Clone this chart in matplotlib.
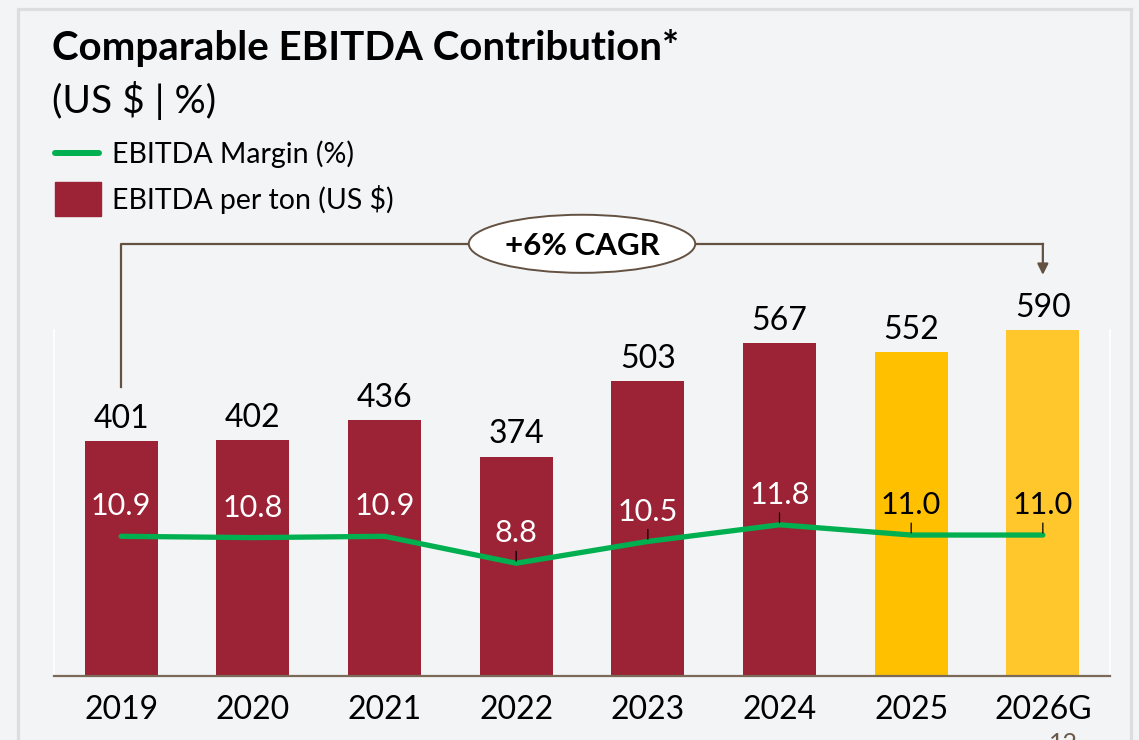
import matplotlib.pyplot as plt
from matplotlib.patches import Ellipse, Rectangle
from matplotlib.lines import Line2D

years = ["2019", "2020", "2021", "2022", "2023", "2024", "2025", "2026G"]
ebitda_per_ton = [401, 402, 436, 374, 503, 567, 552, 590]
ebitda_margin = [10.9, 10.8, 10.9, 8.8, 10.5, 11.8, 11.0, 11.0]
bar_colors = ["#9b2335"] * 6 + ["#ffc000", "#ffc72c"]
margin_label_colors = ["white"] * 6 + ["black", "black"]
has_leader = [False, False, False, True, True, True, True, True]

W, H = 1139, 740
BG = "#f3f4f6"
BRACKET = "#635142"


def fx(px):
    return px / W


def fy(py):
    return 1 - py / H


plt.rcParams["font.family"] = ["Lato", "DejaVu Sans"]
fig = plt.figure(figsize=(W / 100, H / 100), dpi=100)
fig.patch.set_facecolor(BG)

# panel frame
fig.patches.append(Rectangle((fx(17.5), fy(760)), fx(1130.5) - fx(17.5), fy(8.5) - fy(760),
                             transform=fig.transFigure, fill=False,
                             edgecolor="#dcdddf", linewidth=2.3))

# title + legend
fig.text(fx(52), fy(60), "Comparable EBITDA Contribution*", fontsize=29,
         fontweight="bold", va="baseline", ha="left")
fig.text(fx(52), fy(113), "(US $ | %)", fontsize=28, va="baseline", ha="left")
fig.lines.append(Line2D([fx(55), fx(99)], [fy(152.5), fy(152.5)], transform=fig.transFigure,
                        color="#00b050", linewidth=4.3, solid_capstyle="round"))
fig.text(fx(112), fy(163), "EBITDA Margin (%)", fontsize=20.5, va="baseline", ha="left")
fig.patches.append(Rectangle((fx(55), fy(216)), fx(101) - fx(55), fy(182) - fy(216),
                             transform=fig.transFigure, color="#9b2335"))
fig.text(fx(112), fy(209), "EBITDA per ton (US $)", fontsize=20.5, va="baseline", ha="left")

# main axes
ax = fig.add_axes([fx(54), fy(676), (1110 - 54) / W, (676 - 330) / H])
ax.patch.set_visible(False)
x = list(range(len(years)))
ax.bar(x, ebitda_per_ton, width=0.555, color=bar_colors, zorder=2)
ax.set_xlim(-0.51, len(years) - 1 + 0.51)
ax.set_ylim(0, 590)
ax.set_yticks([])
ax.set_xticks(x, years)
ax.tick_params(axis="x", length=0, pad=14, labelsize=23)
for side in ["top"]:
    ax.spines[side].set_visible(False)
for side in ["left", "right"]:
    ax.spines[side].set_color("white")
    ax.spines[side].set_linewidth(1.2)
ax.spines["bottom"].set_color("#7b6a58")
ax.spines["bottom"].set_linewidth(1.6)
ax.spines["bottom"].set_zorder(3)

for i, v in enumerate(ebitda_per_ton):
    ax.annotate(str(v), (i, v), xytext=(0, 9.5), textcoords="offset points",
                ha="center", va="baseline", fontsize=23, annotation_clip=False)

# CAGR bracket
bracket_y = max(ebitda_per_ton) + 147
ax.plot([0, 0, len(years) - 1], [ebitda_per_ton[0] + 92, bracket_y, bracket_y],
        color=BRACKET, linewidth=1.6, clip_on=False, zorder=4)
ax.annotate("", xy=(len(years) - 1, ebitda_per_ton[-1] + 94),
            xytext=(len(years) - 1, bracket_y),
            arrowprops=dict(arrowstyle="-|>", color=BRACKET, lw=1.6,
                            mutation_scale=16, shrinkA=0, shrinkB=0),
            annotation_clip=False, zorder=4)
mid = (len(years) - 1) / 2
ax.add_patch(Ellipse((mid, bracket_y), 1.72, 99, facecolor="white",
                     edgecolor=BRACKET, linewidth=1.4, clip_on=False, zorder=5))
ax.text(mid, bracket_y, "+6% CAGR", ha="center", va="center_baseline",
        fontsize=22.5, fontweight="bold", zorder=6)

# margin line
ax2 = ax.twinx()
ax2.set_ylim(0, 27)
ax2.plot(x, ebitda_margin, color="#00b050", linewidth=3.8, solid_capstyle="round", zorder=3)
ax2.set_yticks([])
for side in ["top", "left", "right", "bottom"]:
    ax2.spines[side].set_visible(False)

for i, v in enumerate(ebitda_margin):
    ax2.annotate(f"{v:.1f}", (i, v), xytext=(0, 15), textcoords="offset points",
                 ha="center", va="baseline", fontsize=22,
                 color=margin_label_colors[i], annotation_clip=False)
    if has_leader[i]:
        ax2.annotate("", xy=(i, v), xytext=(0, 8.6), textcoords="offset points",
                     arrowprops=dict(arrowstyle="-", color="black", lw=0.9,
                                     shrinkA=0, shrinkB=1.5))

# page number (cut by the lower edge, as in the slide)
fig.text(fx(1063), fy(732), "12", fontsize=18, color="#6b5a4a", ha="center", va="top")

fig.savefig("out.png", dpi=100, facecolor=BG)
